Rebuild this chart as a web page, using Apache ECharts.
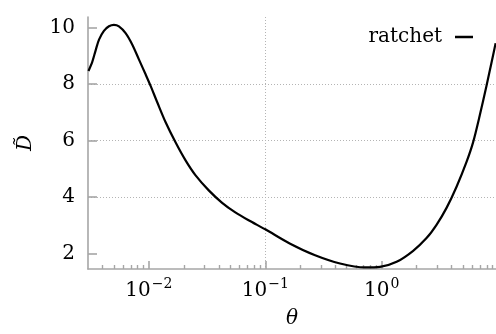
<!DOCTYPE html>
<html><head><meta charset="utf-8">
<script src="https://cdn.jsdelivr.net/npm/echarts@6/dist/echarts.min.js"></script>
<style>html,body{margin:0;padding:0;background:#fff}#c{width:496px;height:334px}</style>
</head><body><div id="c"></div><script>
// data
const theta = [0.00303, 0.00327, 0.00349, 0.00373, 0.00411, 0.00454, 0.00501, 0.00553, 0.00631, 0.00721, 0.00821, 0.00937, 0.01035, 0.0118, 0.0139, 0.0169, 0.0206, 0.0251, 0.0327, 0.0426, 0.0553, 0.0719, 0.1, 0.1637, 0.268, 0.439, 0.719, 0.967, 1.345, 1.865, 2.43, 2.96, 3.61, 4.39, 5.35, 6.10, 6.95, 7.94, 8.77, 9.53];
const Dvals = [8.47, 8.80, 9.20, 9.58, 9.89, 10.05, 10.10, 10.05, 9.81, 9.40, 8.88, 8.35, 7.94, 7.36, 6.66, 5.95, 5.31, 4.78, 4.24, 3.80, 3.46, 3.18, 2.86, 2.35, 1.94, 1.65, 1.51, 1.53, 1.71, 2.10, 2.55, 3.02, 3.62, 4.36, 5.24, 5.94, 6.88, 7.93, 8.75, 9.45];
const xMajorTicks = [0.01, 0.1, 1];
const xMinorTicks = [0.004,0.005,0.006,0.007,0.008,0.009,0.02,0.03,0.04,0.05,0.06,0.07,0.08,0.09,0.2,0.3,0.4,0.5,0.6,0.7,0.8,0.9,2,3,4,5,6,7,8,9];
const yTicks = [2, 4, 6, 8, 10];
const seriesName = 'ratchet';
const xName = 'θ';
const yName = 'D\u0303';

const FONT = 'DejaVu Serif';
const FS = 20;
const AX = '#a6a6a6';
const GRID = '#b4b4b4';
const chart = echarts.init(document.getElementById('c'), null, {renderer: 'canvas'});
const xMin = 0.003, xMax = 9.6, yMin = 1.455, yMax = 10.38;
function supFmt(v) {
  const e = Math.round(Math.log10(v));
  return '{b|10}{s|' + (e < 0 ? '\u2212' : '') + Math.abs(e) + '}';
}
chart.setOption({
  animation: false,
  backgroundColor: '#fff',
  grid: {left: 88, right: 0, top: 17, bottom: 63, containLabel: false},
  legend: {
    right: 13, top: 24, backgroundColor: '#fff', padding: [3, 10, 3, 21],
    align: 'right', icon: 'rect', itemWidth: 18, itemHeight: 2.5,
    textStyle: {fontFamily: FONT, fontSize: FS, color: '#000', padding: [0, 8, 0, 0]},
    data: [seriesName]
  },
  xAxis: [{
    type: 'log', logBase: 10, min: xMin, max: xMax,
    name: xName, nameLocation: 'middle', nameGap: 40,
    nameTextStyle: {fontFamily: FONT, fontStyle: 'italic', fontSize: FS, color: '#000'},
    axisLine: {show: true, lineStyle: {color: AX, width: 1.6}},
    axisTick: {show: true, inside: true, length: 8, lineStyle: {color: AX, width: 1.6}, customValues: xMajorTicks},
    axisLabel: {customValues: xMajorTicks, margin: 8, formatter: supFmt, color: '#000',
      rich: {b: {fontFamily: FONT, fontSize: FS, color: '#000'},
             s: {fontFamily: FONT, fontSize: 14, color: '#000', padding: [0, 0, 13, 1]}}},
    splitLine: {show: true, showMinLine: false, showMaxLine: false, lineStyle: {color: GRID, type: [1, 2], width: 1}},
    minorTick: {show: false}
  }, {
    type: 'log', logBase: 10, min: xMin, max: xMax, position: 'bottom',
    axisLine: {show: false},
    axisTick: {show: true, inside: true, length: 4, lineStyle: {color: AX, width: 1.4}, customValues: xMinorTicks},
    axisLabel: {show: false},
    splitLine: {show: false}
  }],
  yAxis: {
    type: 'value', min: yMin, max: yMax,
    name: yName, nameLocation: 'middle', nameGap: 52, nameRotate: 90,
    nameTextStyle: {fontFamily: FONT, fontStyle: 'italic', fontSize: FS, color: '#000'},
    axisLine: {show: true, lineStyle: {color: AX, width: 1.6}},
    axisTick: {show: true, inside: true, length: 9, lineStyle: {color: AX, width: 1.6}, customValues: yTicks},
    axisLabel: {customValues: yTicks, margin: 13, fontFamily: FONT, fontSize: FS, color: '#000'},
    splitLine: {show: true, showMinLine: false, showMaxLine: false, lineStyle: {color: GRID, type: [1, 2], width: 1}}
  },
  series: [{
    name: seriesName, type: 'line', xAxisIndex: 0, smooth: 0.3, showSymbol: false,
    lineStyle: {color: '#000', width: 2.2}, itemStyle: {color: '#000'},
    data: theta.map((t, i) => [t, Dvals[i]])
  }]
});
</script></body></html>
